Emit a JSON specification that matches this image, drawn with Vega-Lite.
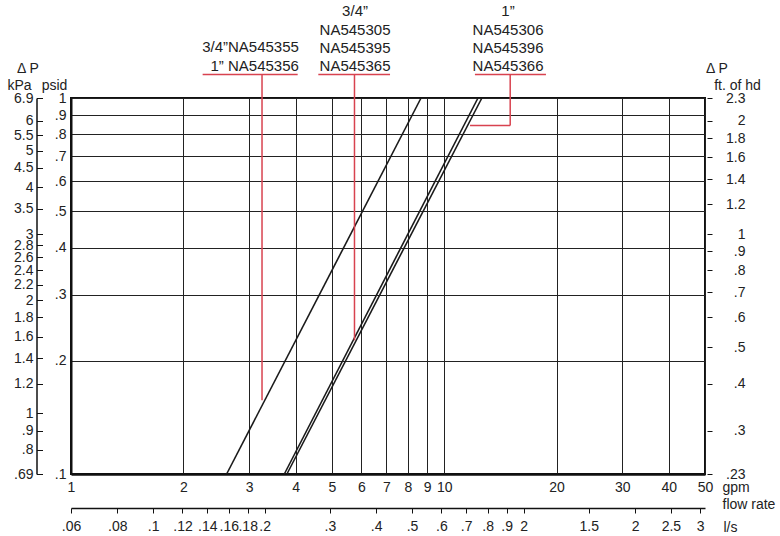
{
  "$schema": "https://vega.github.io/schema/vega-lite/v6.json",
  "width": 634,
  "height": 376,
  "autosize": {"type": "none"},
  "padding": {"left": 71, "top": 98, "right": 75, "bottom": 62},
  "background": "white",
  "config": {
    "view": {"stroke": "#111", "strokeWidth": 2},
    "font": "Liberation Sans",
    "axis": {
      "labelFont": "Liberation Sans",
      "labelFontSize": 14,
      "labelColor": "#222",
      "titleFont": "Liberation Sans",
      "titleFontSize": 14,
      "titleFontWeight": "normal",
      "titleColor": "#222",
      "labelOverlap": false,
      "labelFlush": false,
      "labelBound": false,
      "domainColor": "#111",
      "tickColor": "#111",
      "grid": false
    }
  },
  "resolve": {"scale": {"x": "independent", "y": "independent"}, "axis": {"x": "independent", "y": "independent"}},
  "layer": [
    {
      "encoding": {
        "x": {
          "field": "gpm",
          "type": "quantitative",
          "scale": {"type": "log", "domain": [1, 50], "nice": false},
          "axis": {
            "values": [1, 2, 3, 4, 5, 6, 7, 8, 9, 10, 20, 30, 40, 50],
            "grid": true, "gridColor": "#222", "gridWidth": 1,
            "ticks": false, "domainWidth": 2.5, "labelPadding": 6,
            "labelExpr": "toString(datum.value)",
            "title": ["gpm", "flow rate"], "titleAngle": 0, "titleX": 651, "titleY": 6,
            "titleAlign": "left", "titleBaseline": "top", "titleLineHeight": 17
          }
        },
        "y": {
          "field": "psid",
          "type": "quantitative",
          "scale": {"type": "log", "domain": [0.1, 1], "nice": false},
          "axis": {
            "values": [0.1, 0.2, 0.3, 0.4, 0.5, 0.6, 0.7, 0.8, 0.9, 1],
            "grid": true, "gridColor": "#222", "gridWidth": 1,
            "ticks": false, "domainWidth": 2, "labelPadding": 5,
            "labelExpr": "datum.value >= 1 ? toString(datum.value) : replace(toString(datum.value), '0.', '.')",
            "title": "psid", "titleAngle": 0, "titleX": -17, "titleY": -13,
            "titleAlign": "center", "titleBaseline": "middle"
          }
        }
      },
      "layer": [
        {
          "data": {"values": [
            {"series": "A", "gpm": 2.613, "psid": 0.1},
            {"series": "A", "gpm": 8.67, "psid": 1},
            {"series": "B", "gpm": 3.73, "psid": 0.1},
            {"series": "B", "gpm": 12.32, "psid": 1},
            {"series": "C", "gpm": 3.79, "psid": 0.1},
            {"series": "C", "gpm": 12.62, "psid": 1}
          ]},
          "mark": {"type": "line", "color": "#1a1a1a", "strokeWidth": 1.6},
          "encoding": {"detail": {"field": "series"}}
        },
        {
          "data": {"values": [
            {"gpm": 2.253, "psid": 1.154, "gpm2": 4.05, "psid2": 1.154},
            {"gpm": 3.25, "psid": 1.154, "gpm2": 3.25, "psid2": 0.157},
            {"gpm": 4.6, "psid": 1.154, "gpm2": 7.16, "psid2": 1.154},
            {"gpm": 5.75, "psid": 1.154, "gpm2": 5.75, "psid2": 0.2267},
            {"gpm": 12.09, "psid": 1.154, "gpm2": 18.74, "psid2": 1.154},
            {"gpm": 15.03, "psid": 1.154, "gpm2": 15.03, "psid2": 0.845},
            {"gpm": 15.03, "psid": 0.845, "gpm2": 11.73, "psid2": 0.845}
          ]},
          "mark": {"type": "rule", "color": "#d8424f", "strokeWidth": 1.5},
          "encoding": {"x2": {"field": "gpm2"}, "y2": {"field": "psid2"}}
        },
        {
          "data": {"values": [
            {"gpm": 4.08, "psid": 1.37, "label": "3/4”NA545355"},
            {"gpm": 4.08, "psid": 1.219, "label": "1” NA545356"}
          ]},
          "mark": {"type": "text", "fontSize": 15, "font": "Liberation Sans", "color": "#222", "baseline": "middle", "align": "right"},
          "encoding": {"text": {"field": "label"}}
        },
        {
          "data": {"values": [
            {"gpm": 5.77, "psid": 1.699, "label": "3/4”"},
            {"gpm": 5.77, "psid": 1.512, "label": "NA545305"},
            {"gpm": 5.77, "psid": 1.362, "label": "NA545395"},
            {"gpm": 5.77, "psid": 1.219, "label": "NA545365"},
            {"gpm": 14.83, "psid": 1.699, "label": "1”"},
            {"gpm": 14.83, "psid": 1.512, "label": "NA545306"},
            {"gpm": 14.83, "psid": 1.362, "label": "NA545396"},
            {"gpm": 14.83, "psid": 1.219, "label": "NA545366"}
          ]},
          "mark": {"type": "text", "fontSize": 15, "font": "Liberation Sans", "color": "#222", "baseline": "middle", "align": "center"},
          "encoding": {"text": {"field": "label"}}
        },
        {
          "data": {"values": [
            {"gpm": 0.767, "psid": 1.197, "label": "Δ P"},
            {"gpm": 53.8, "psid": 1.197, "label": "Δ P"}
          ]},
          "mark": {"type": "text", "fontSize": 14, "font": "Liberation Sans", "color": "#222", "baseline": "middle", "align": "center"},
          "encoding": {"text": {"field": "label"}}
        }
      ]
    },
    {
      "data": {"values": [{"kpa": 1}]},
      "mark": {"type": "point", "opacity": 0},
      "encoding": {
        "y": {
          "field": "kpa",
          "type": "quantitative",
          "scale": {"type": "log", "domain": [0.69, 6.9], "nice": false},
          "axis": {
            "orient": "left", "offset": 34.5,
            "values": [0.69, 0.8, 0.9, 1, 1.2, 1.4, 1.6, 1.8, 2, 2.2, 2.4, 2.6, 2.8, 3, 3.5, 4, 4.5, 5, 5.5, 6, 6.9],
            "tickSize": -6, "tickWidth": 1, "domainWidth": 1.5, "labelPadding": 9.5,
            "labelExpr": "datum.value >= 1 ? toString(datum.value) : replace(toString(datum.value), '0.', '.')",
            "title": "kPa", "titleAngle": 0, "titleX": -17.5, "titleY": -13,
            "titleAlign": "center", "titleBaseline": "middle"
          }
        }
      }
    },
    {
      "data": {"values": [{"ft": 1}]},
      "mark": {"type": "point", "opacity": 0},
      "encoding": {
        "y": {
          "field": "ft",
          "type": "quantitative",
          "scale": {"type": "log", "domain": [0.23, 2.3], "nice": false},
          "axis": {
            "orient": "right", "offset": 2,
            "values": [0.23, 0.3, 0.4, 0.5, 0.6, 0.7, 0.8, 0.9, 1, 1.2, 1.4, 1.6, 1.8, 2, 2.3],
            "tickSize": 5, "tickWidth": 1, "domain": false, "labelPadding": 33, "labelAlign": "right",
            "labelExpr": "datum.value >= 1 ? toString(datum.value) : replace(toString(datum.value), '0.', '.')",
            "title": "ft. of hd", "titleAngle": 0, "titleX": 30, "titleY": -13,
            "titleAlign": "center", "titleBaseline": "middle"
          }
        }
      }
    },
    {
      "data": {"values": [{"ls": 1}]},
      "mark": {"type": "point", "opacity": 0},
      "encoding": {
        "x": {
          "field": "ls",
          "type": "quantitative",
          "scale": {"type": "log", "domain": [0.06, 3.09], "nice": false},
          "axis": {
            "orient": "bottom", "offset": 34,
            "values": [0.06, 0.08, 0.1, 0.12, 0.14, 0.16, 0.18, 0.2, 0.3, 0.4, 0.5, 0.6, 0.7, 0.8, 0.9, 1, 1.5, 2, 2.5, 3],
            "tickSize": 5, "tickWidth": 1, "domainWidth": 1.5, "labelPadding": 6,
            "labelExpr": "datum.value == 1 ? '2' : datum.value < 1 ? replace(toString(datum.value), '0.', '.') : toString(datum.value)",
            "title": "l/s", "titleAngle": 0, "titleX": 652, "titleY": 19,
            "titleAlign": "left", "titleBaseline": "middle"
          }
        }
      }
    }
  ]
}
